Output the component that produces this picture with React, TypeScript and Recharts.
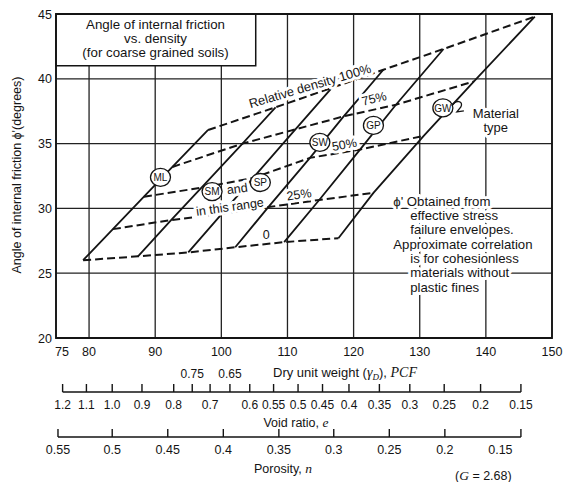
import React from 'react';
import { LineChart, Line, XAxis, YAxis, CartesianGrid, ReferenceArea, ReferenceDot } from 'recharts';

const SANS = "'Liberation Sans', Arial, Helvetica, sans-serif";
const NARROW = "'Liberation Sans Narrow', 'Liberation Sans', Arial, sans-serif";
const SERIF = "'Liberation Serif', 'Times New Roman', serif";
const INK = '#141414';

const W = 567;
const H = 482;
const M = { top: 14, right: 15, bottom: 0, left: 0 };
const Y_W = 56;
const PX = (W - M.right - Y_W) / 75; // px per PCF, only for the short scale lines

// dry unit weight (PCF) and friction angle (degrees)
const dryTicks = [75, 80, 90, 100, 110, 120, 130, 140, 150];
const phiTicks = [20, 25, 30, 35, 40, 45];

// void ratio scale: where each value sits on the dry unit weight axis
const voidAt = [76.0, 79.6, 83.5, 88.0, 92.8, 95.6, 98.3, 101.3, 104.3, 107.9, 111.6, 115.3, 119.3, 123.9, 128.5, 133.7, 139.2, 145.3];
const voidLabels = ['1.2', '1.1', '1.0', '0.9', '0.8', '0.75', '0.7', '0.65', '0.6', '0.55', '0.5', '0.45', '0.4', '0.35', '0.3', '0.25', '0.2', '0.15'];
const voidAbove = ['0.75', '0.65'];

// porosity scale
const porAt = [75.3, 83.5, 91.9, 100.3, 108.7, 117.0, 125.4, 133.8, 142.2, 145.3];
const porLabels = ['0.55', '0.5', '0.45', '0.4', '0.35', '0.3', '0.25', '0.2', '0.15', ''];

// material types, left to right
const materials = ['ML', 'SM', 'SP', 'SW', 'GP', 'GW'];
const tagX = [90.8, 98.6, 105.9, 114.9, 123.0, 133.5];
const tagY = [32.4, 31.3, 32.0, 35.1, 36.4, 37.75];

// crossings of each relative density line with the six material lines
const dens0 = [
  { x: 79.1, y: 26.0 }, { x: 87.4, y: 26.3 }, { x: 95.0, y: 26.6 },
  { x: 102.1, y: 27.0 }, { x: 109.5, y: 27.4 }, { x: 117.7, y: 27.7 },
];
const dens25 = [
  { x: 83.6, y: 28.4 }, { x: 92.4, y: 29.1 }, { x: 100.1, y: 29.6 },
  { x: 107.1, y: 30.1 }, { x: 114.8, y: 30.65 }, { x: 123.0, y: 31.2 },
];
const dens50 = [
  { x: 88.3, y: 30.9 }, { x: 97.0, y: 31.6 }, { x: 104.8, y: 32.35 },
  { x: 113.4, y: 33.9 }, { x: 121.0, y: 34.55 }, { x: 130.6, y: 35.6 },
];
const dens75 = [
  { x: 92.6, y: 33.2 }, { x: 103.2, y: 35.0 }, { x: 111.2, y: 36.1 },
  { x: 118.5, y: 37.1 }, { x: 126.4, y: 38.0 }, { x: 138.2, y: 39.8 },
];
const dens100 = [
  { x: 98.0, y: 36.05 }, { x: 108.2, y: 37.8 }, { x: 116.7, y: 39.3 },
  { x: 124.5, y: 40.7 }, { x: 133.6, y: 42.3 }, { x: 147.4, y: 44.8 },
];
const densLines = [dens0, dens25, dens50, dens75, dens100];

// labels along the density lines
const densText = [
  { text: '0', x: 106.8, y: 27.95, a: 0, s: 12.5 },
  { text: '25%', x: 111.75, y: 31.05, a: -8, s: 12.5 },
  { text: '50%', x: 118.6, y: 34.9, a: -10, s: 12.5 },
  { text: '75%', x: 123.1, y: 38.45, a: -14, s: 12.5 },
  { text: 'Relative density 100%', x: 113.4, y: 39.45, a: -16.5, s: 12.8 },
];

const titleLines = ['Angle of internal friction', 'vs. density', '(for coarse grained soils)'];
const noteLines = [
  { t: "ϕ' Obtained from", dx: 0 },
  { t: 'effective stress', dx: 17 },
  { t: 'failure envelopes.', dx: 17 },
  { t: 'Approximate correlation', dx: 0 },
  { t: 'is for cohesionless', dx: 17 },
  { t: 'materials without', dx: 17 },
  { t: 'plastic fines', dx: 17 },
];

const halo: any = { paintOrder: 'stroke', stroke: '#fff', strokeWidth: 6, strokeLinejoin: 'round' };

const span = (from: number, to: number) => `0 ${(from - 75) * PX} ${(to - from) * PX} 3000`;

const DryTick = (p: any) => (
  <text x={p.x + (p.payload.value === 75 ? 6 : 0)} y={p.y + 17.5} textAnchor="middle"
    fontSize={12.5} fontFamily={SANS} fill={INK}>{p.payload.value}</text>
);

const PhiTick = (p: any) => (
  <text x={p.x - 4} y={p.y + 4.5} textAnchor="end" fontSize={12.5} fontFamily={SANS} fill={INK}>
    {p.payload.value}
  </text>
);

const VoidTick = (p: any) => {
  const label = voidLabels[voidAt.indexOf(p.payload.value)] ?? '';
  const up = voidAbove.includes(label);
  return (
    <g>
      <line x1={p.x} x2={p.x} y1={p.y} y2={p.y - 8} stroke={INK} strokeWidth={1.4} />
      <text x={p.x} y={up ? p.y - 14.5 : p.y + 16.5} textAnchor="middle" fontSize={12}
        fontFamily={NARROW} fill={INK}>{label}</text>
    </g>
  );
};

const PorTick = (p: any) => {
  const label = porLabels[porAt.indexOf(p.payload.value)] ?? '';
  return (
    <g>
      {label !== '0.15' && (
        <line x1={p.x} x2={p.x} y1={p.y} y2={p.y - 8} stroke={INK} strokeWidth={1.4} />
      )}
      <text x={p.x} y={p.y + 16.5} textAnchor="middle" fontSize={12.5} fontFamily={SANS} fill={INK}>
        {label}
      </text>
    </g>
  );
};

const DryLabel = ({ viewBox }: any) => (
  <text x={viewBox.x + 289} y={viewBox.y + 38.5} textAnchor="middle" fontSize={13} fontFamily={SANS} fill={INK}>
    Dry unit weight (
    <tspan fontFamily={SERIF} fontStyle="italic" fontSize={14}>γ</tspan>
    <tspan fontFamily={SERIF} fontStyle="italic" fontSize={9} dy={3}>D</tspan>
    <tspan dy={-3}>), </tspan>
    <tspan fontFamily={SERIF} fontStyle="italic" fontSize={14}>PCF</tspan>
  </text>
);

const VoidLabel = ({ viewBox }: any) => (
  <text x={viewBox.x + 240} y={viewBox.y + 34.5} textAnchor="middle" fontSize={12.5} fontFamily={SANS} fill={INK}>
    Void ratio, <tspan fontFamily={SERIF} fontStyle="italic" fontSize={13.5}>e</tspan>
  </text>
);

const PorLabel = ({ viewBox }: any) => (
  <g>
    <text x={viewBox.x + 227} y={viewBox.y + 36} textAnchor="middle" fontSize={12.5} fontFamily={SANS} fill={INK}>
      Porosity, <tspan fontFamily={SERIF} fontStyle="italic" fontSize={13.5}>n</tspan>
    </text>
    <text x={viewBox.x + 399} y={viewBox.y + 43} fontSize={12.5} fontFamily={SANS} fill={INK}>
      (<tspan fontFamily={SERIF} fontStyle="italic" fontSize={13.5}>G</tspan> = 2.68)
    </text>
  </g>
);

const PhiLabel = ({ viewBox }: any) => {
  const cy = viewBox.y + viewBox.height / 2 - 1;
  return (
    <text x={17} y={cy} transform={`rotate(-90 17 ${cy})`} textAnchor="middle" dominantBaseline="central"
      fontSize={12.5} fontFamily={SANS} fill={INK}>
      Angle of internal friction ϕ'(degrees)
    </text>
  );
};

const tagShape = (name: string) => (p: any) => (
  <g>
    <ellipse cx={p.cx} cy={p.cy} rx={10} ry={9} fill="#fff" stroke={INK} strokeWidth={1.3} />
    <text x={p.cx} y={p.cy + 3.6} textAnchor="middle" fontSize={10} fontFamily={NARROW} fill={INK}>{name}</text>
    {name === 'GW' && (
      <path d={`M${p.cx + 9},${p.cy - 2} C${p.cx + 13},${p.cy - 9} ${p.cx + 21},${p.cy - 7} ${p.cx + 18},${p.cy - 1} L${p.cx + 14},${p.cy + 4} L${p.cx + 21},${p.cy + 3}`}
        fill="none" stroke={INK} strokeWidth={1.3} />
    )}
  </g>
);

const noteShape = (text: string, angle: number, size = 12.5) => (p: any) => (
  <text x={p.cx} y={p.cy} transform={`rotate(${angle} ${p.cx} ${p.cy})`} textAnchor="middle"
    dominantBaseline="central" fontSize={size} fontFamily={SANS} fill={INK} style={halo}>{text}</text>
);

const titleShape = (p: any) => (
  <g>
    {titleLines.map((t, i) => (
      <text key={t} x={p.cx} y={p.cy - 10.5 + i * 14} textAnchor="middle" fontSize={13.3} fontFamily={SANS} fill={INK}>{t}</text>
    ))}
  </g>
);

const remarkShape = (p: any) => (
  <g>
    {noteLines.map((l, i) => (
      <text key={l.t} x={p.cx + l.dx} y={p.cy + i * 14.3} fontSize={13.2} fontFamily={SANS} fill={INK} style={halo}>{l.t}</text>
    ))}
  </g>
);

const materialShape = (p: any) => (
  <g>
    <text x={p.cx} y={p.cy - 7} textAnchor="middle" dominantBaseline="central" fontSize={13} fontFamily={SANS} fill={INK} style={halo}>Material</text>
    <text x={p.cx} y={p.cy + 7} textAnchor="middle" dominantBaseline="central" fontSize={13} fontFamily={SANS} fill={INK} style={halo}>type</text>
  </g>
);

// invisible carriers so the two secondary scales get their ticks
const voidCarrier = voidAt.map((x) => ({ x, y: 20 }));
const porCarrier = porAt.map((x) => ({ x, y: 20 }));

export default function App() {
  return (
    <div style={{ position: 'absolute', left: 0, top: 0, width: W, height: H, background: '#fff' }}>
      <LineChart width={W} height={H} margin={M}>
        <CartesianGrid stroke="#222" strokeWidth={1.3} />
        <XAxis type="number" dataKey="x" domain={[75, 150]} ticks={dryTicks} interval={0} height={54}
          axisLine={false} tickLine={false} tickSize={0} tickMargin={0} tick={DryTick} label={DryLabel} />
        <XAxis xAxisId="e" dataKey="x" type="number" domain={[75, 150]} ticks={voidAt} interval={0} height={45}
          axisLine={{ stroke: INK, strokeWidth: 1.5, strokeDasharray: span(voidAt[0], voidAt[voidAt.length - 1]) }}
          tickLine={false} tickSize={0} tickMargin={0} tick={VoidTick} label={VoidLabel} />
        <XAxis xAxisId="n" dataKey="x" type="number" domain={[75, 150]} ticks={porAt} interval={0} height={45}
          axisLine={{ stroke: INK, strokeWidth: 1.5, strokeDasharray: span(porAt[0], porAt[porAt.length - 1]) }}
          tickLine={false} tickSize={0} tickMargin={0} tick={PorTick} label={PorLabel} />
        <YAxis type="number" domain={[20, 45]} ticks={phiTicks} interval={0} width={Y_W}
          axisLine={false} tickLine={false} tickSize={0} tickMargin={0} tick={PhiTick} label={PhiLabel} />

        <ReferenceArea x1={75} x2={105.2} y1={41} y2={45} fill="#fff" fillOpacity={1} stroke={INK} strokeWidth={1.5} />
        <ReferenceArea x1={75} x2={150} y1={20} y2={45} fill="none" stroke={INK} strokeWidth={1.8} />

        <Line xAxisId="e" data={voidCarrier} dataKey="y" stroke="none" dot={false} activeDot={false} isAnimationActive={false} />
        <Line xAxisId="n" data={porCarrier} dataKey="y" stroke="none" dot={false} activeDot={false} isAnimationActive={false} />

        {densLines.map((d, i) => (
          <Line key={'d' + i} data={d} dataKey="y" type="linear" stroke={INK} strokeWidth={2}
            strokeDasharray="8 4" dot={false} activeDot={false} isAnimationActive={false} />
        ))}
        {materials.map((m, i) => (
          <Line key={m} data={densLines.map((d) => d[i])} dataKey="y" type="linear" stroke={INK}
            strokeWidth={1.8} dot={false} activeDot={false} isAnimationActive={false} />
        ))}

        {densText.map((t) => (
          <ReferenceDot key={t.text} x={t.x} y={t.y} r={1} zIndex={1000} shape={noteShape(t.text, t.a, t.s)} />
        ))}
        <ReferenceDot x={101.3} y={30.1} r={1} zIndex={1000} shape={noteShape('in this range', -8, 12.5)} />
        <ReferenceDot x={102.4} y={31.5} r={1} zIndex={1000} shape={noteShape('and', -8, 12.5)} />
        {materials.map((m, i) => (
          <ReferenceDot key={'t' + m} x={tagX[i]} y={tagY[i]} r={1} zIndex={1000} shape={tagShape(m)} />
        ))}
        <ReferenceDot x={141.5} y={36.8} r={1} zIndex={1000} shape={materialShape} />
        <ReferenceDot x={126.0} y={30.2} r={1} zIndex={1000} shape={remarkShape} />
        <ReferenceDot x={90.05} y={43.0} r={1} zIndex={1000} shape={titleShape} />
      </LineChart>
    </div>
  );
}
